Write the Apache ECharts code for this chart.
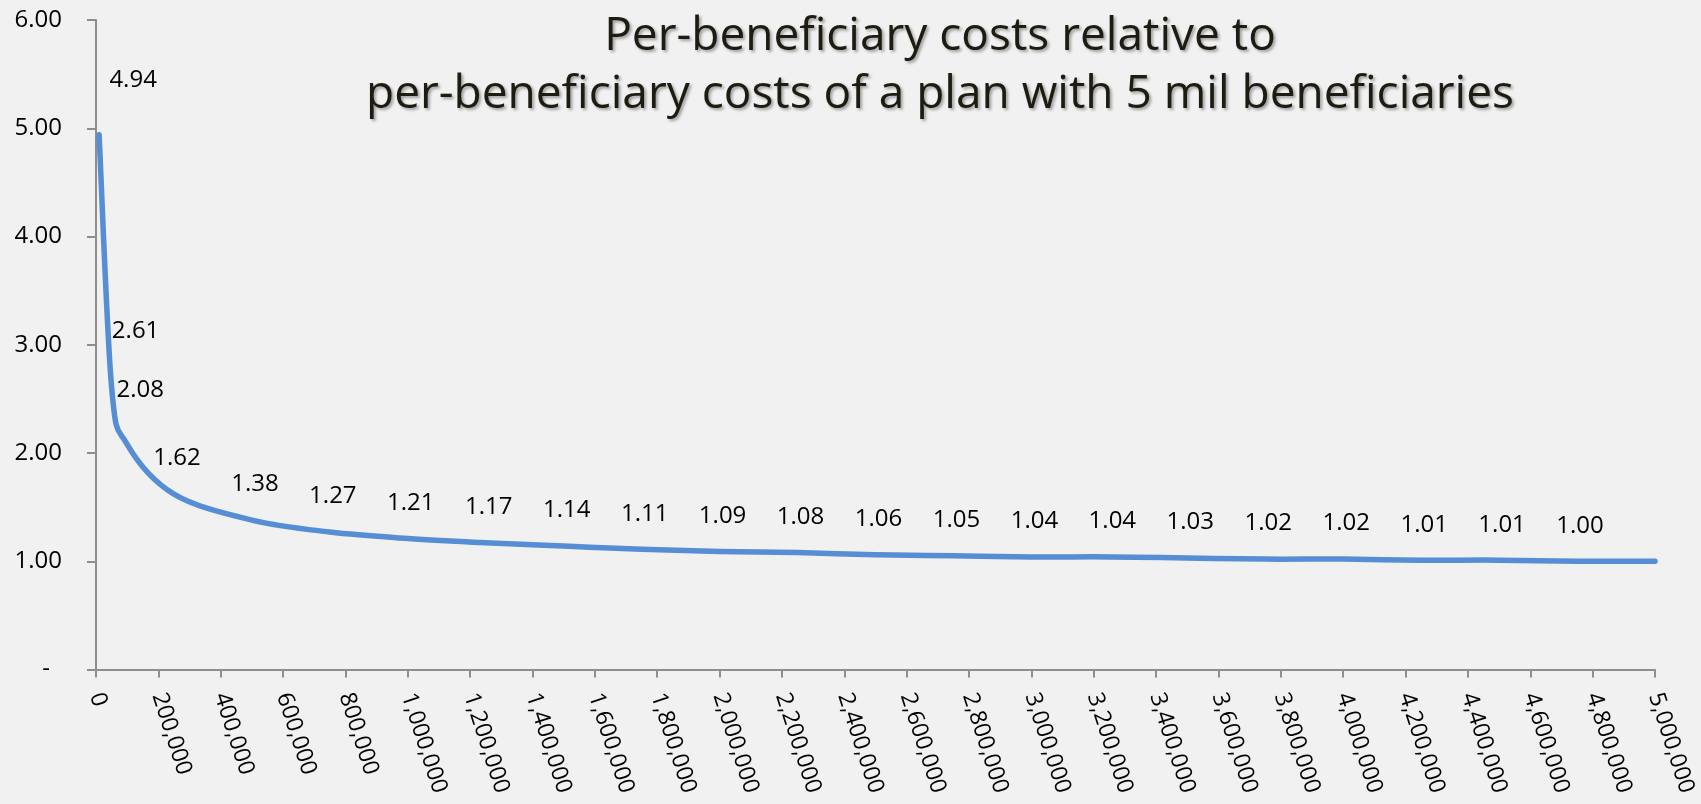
<!DOCTYPE html>
<html>
<head>
<meta charset="utf-8">
<style>
  html, body { margin: 0; padding: 0; background: #f1f1f1; }
  #chart { width: 1701px; height: 804px; }
</style>
<script src="https://cdn.jsdelivr.net/npm/echarts@6/dist/echarts.min.js"></script>
</head>
<body>
<div id="chart"></div>
<script>
// Plan size (number of beneficiaries)
const beneficiaries = [
  10000, 50000, 100000, 250000, 500000, 750000, 1000000, 1250000, 1500000,
  1750000, 2000000, 2250000, 2500000, 2750000, 3000000, 3250000, 3500000,
  3750000, 4000000, 4250000, 4500000, 4750000, 5000000
];
// Per-beneficiary cost relative to a plan with 5 million beneficiaries
const relativeCost = [
  4.94, 2.61, 2.08, 1.62, 1.38, 1.27, 1.21, 1.17, 1.14, 1.11, 1.09, 1.08,
  1.06, 1.05, 1.04, 1.04, 1.03, 1.02, 1.02, 1.01, 1.01, 1.00, 1.00
];
// Points whose value is printed above the curve (the 5 mil reference point is not)
const labelled = beneficiaries.map((x, i) => i < beneficiaries.length - 1);
const titleLines = [
  'Per-beneficiary costs relative to',
  'per-beneficiary costs of a plan with 5 mil beneficiaries'
];

// Label placement (pixel offsets from the point)
const defaultLabelOffset = [3, -35];
const specialLabelOffset = { 0: [34, -54], 1: [24, -55], 2: [13, -54] };

const FONT = '"Open Sans", "Liberation Sans", sans-serif';
const LINE_COLOR = '#558ed5';
const fmtThousands = v => String(v).replace(/\B(?=(\d{3})+(?!\d))/g, ',');

const seriesData = beneficiaries.map((x, i) => ({
  value: [x, relativeCost[i]],
  label: {
    show: labelled[i],
    offset: specialLabelOffset[i] || defaultLabelOffset
  }
}));

// Smoothed curve: cubic Bezier spline with Catmull-Rom control points,
// every point placed through the chart's own coordinate system.
function renderSmoothCurve(params, api) {
  const pts = beneficiaries.map((x, i) => api.coord([x, relativeCost[i]]));
  const n = pts.length;
  let d = 'M' + pts[0][0] + ' ' + pts[0][1];
  for (let i = 0; i < n - 1; i++) {
    const p0 = pts[Math.max(i - 1, 0)];
    const p1 = pts[i];
    const p2 = pts[i + 1];
    const p3 = pts[Math.min(i + 2, n - 1)];
    const c1 = [p1[0] + (p2[0] - p0[0]) / 6, p1[1] + (p2[1] - p0[1]) / 6];
    const c2 = [p2[0] - (p3[0] - p1[0]) / 6, p2[1] - (p3[1] - p1[1]) / 6];
    d += ' C' + c1[0] + ' ' + c1[1] + ' ' + c2[0] + ' ' + c2[1] + ' ' + p2[0] + ' ' + p2[1];
  }
  return {
    type: 'path',
    shape: { pathData: d },
    style: { fill: null, stroke: LINE_COLOR, lineWidth: 5.5, lineCap: 'round', lineJoin: 'round' }
  };
}

const chart = echarts.init(document.getElementById('chart'), null, { renderer: 'canvas' });
chart.setOption({
  backgroundColor: '#f1f1f1',
  animation: false,
  title: {
    text: titleLines.join('\n'),
    left: 935,
    top: 3,
    textAlign: 'center',
    textStyle: {
      fontFamily: '"Open Sans", Lato, sans-serif',
      fontWeight: 'normal',
      fontSize: 46,
      lineHeight: 58,
      color: '#1e1b10',
      textShadowColor: 'rgba(0,0,0,0.35)',
      textShadowBlur: 3,
      textShadowOffsetX: 2,
      textShadowOffsetY: 2
    }
  },
  grid: { left: 96, right: 46, top: 20, bottom: 134.5, containLabel: false },
  xAxis: {
    type: 'value',
    min: 0,
    max: 5000000,
    interval: 200000,
    splitLine: { show: false },
    axisLine: { show: true, lineStyle: { color: '#8e8e8e', width: 2 } },
    axisTick: { show: true, length: 8, lineStyle: { color: '#8e8e8e', width: 2 } },
    axisLabel: {
      rotate: -72,
      margin: 24,
      fontFamily: FONT,
      fontSize: 23,
      color: '#000',
      showMinLabel: true,
      showMaxLabel: true,
      hideOverlap: false,
      formatter: v => fmtThousands(v)
    }
  },
  yAxis: {
    type: 'value',
    min: 0,
    max: 6,
    interval: 1,
    splitLine: { show: false },
    axisLine: { show: true, lineStyle: { color: '#8e8e8e', width: 2 } },
    axisTick: { show: true, length: 9, lineStyle: { color: '#8e8e8e', width: 2 } },
    axisLabel: {
      margin: 34,
      fontFamily: FONT,
      fontSize: 24,
      color: '#000',
      formatter: v => (v === 0 ? '{dash|-}' : v.toFixed(2)),
      rich: { dash: { fontFamily: FONT, fontSize: 24, color: '#000', padding: [0, 12, 0, 0] } }
    }
  },
  series: [
    {
      type: 'custom',
      name: 'curve',
      renderItem: renderSmoothCurve,
      data: [[beneficiaries[0], relativeCost[0]]],
      encode: { x: 0, y: 1 },
      silent: true,
      z: 2
    },
    {
      type: 'line',
      data: seriesData,
      showSymbol: true,
      symbol: 'circle',
      symbolSize: 1,
      itemStyle: { color: LINE_COLOR },
      lineStyle: { width: 0, opacity: 0 },
      z: 3,
      label: {
        show: true,
        position: 'top',
        distance: 0,
        verticalAlign: 'middle',
        fontFamily: FONT,
        fontSize: 24,
        color: '#000',
        formatter: p => p.value[1].toFixed(2)
      }
    }
  ]
});
</script>
</body>
</html>
